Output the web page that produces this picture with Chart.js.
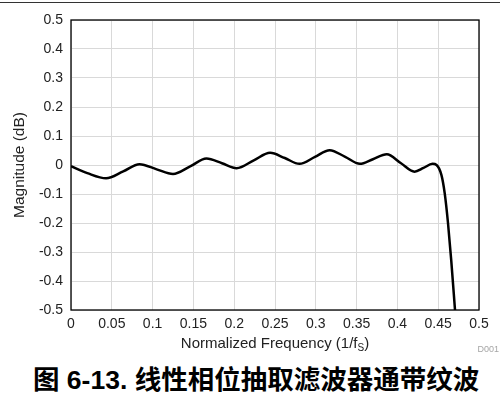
<!DOCTYPE html>
<html>
<head>
<meta charset="utf-8">
<script src="https://cdn.jsdelivr.net/npm/chart.js@4/dist/chart.umd.min.js"></script>
<style>
  html, body { margin: 0; padding: 0; background: #fff; }
  body { width: 500px; height: 406px; position: relative; overflow: hidden; }
  #rule { position: absolute; left: 0; top: 2px; width: 500px; height: 0; border-top: 1.5px solid #333; }
  #wrap { position: absolute; left: 0; top: 0; width: 500px; height: 360px; }
  #caption {
    position: absolute; left: 33px; top: 363px; white-space: nowrap;
    font-family: "Liberation Sans", Arial, "Noto Sans CJK SC", sans-serif;
    font-weight: bold; font-size: 26.5px; line-height: 34px; color: #000;
  }
</style>
</head>
<body>
<div id="rule"></div>
<div id="wrap"><canvas id="rippleChart" width="500" height="360"></canvas></div>
<div id="caption">图 6-13. 线性相位抽取滤波器通带纹波</div>
<script>
// passband ripple: normalized freq (1/fS) vs magnitude (dB)
const freq = [0, 0.02, 0.043, 0.064, 0.084, 0.105, 0.125, 0.146, 0.166, 0.185,
  0.203, 0.224, 0.244, 0.262, 0.280, 0.299, 0.317, 0.336, 0.354, 0.370,
  0.387, 0.404, 0.421, 0.432, 0.443, 0.448, 0.454, 0.458, 0.462, 0.466, 0.4706];
const magnitude = [-0.004, -0.028, -0.046, -0.022, 0.003, -0.015, -0.031, -0.005, 0.022, 0.006,
  -0.011, 0.016, 0.042, 0.024, 0.004, 0.028, 0.051, 0.028, 0.004, 0.020,
  0.037, 0.007, -0.023, -0.010, 0.004, 0.000, -0.035, -0.098, -0.2, -0.33, -0.5];

const xTicks = [0, 0.05, 0.1, 0.15, 0.2, 0.25, 0.3, 0.35, 0.4, 0.45, 0.5];
const xTickLabels = ['0', '0.05', '0.1', '0.15', '0.2', '0.25', '0.3', '0.35', '0.4', '0.45', '0.5'];
const yTicks = [-0.5, -0.4, -0.3, -0.2, -0.1, 0, 0.1, 0.2, 0.3, 0.4, 0.5];
const yTickLabels = ['-0.5', '-0.4', '-0.3', '-0.2', '-0.1', '0', '0.1', '0.2', '0.3', '0.4', '0.5'];

const FONT = '"Liberation Sans", Arial, sans-serif';
const gridColor = '#d9d9d9';

// frame round the plot, x title with subscript S, and the D001 tag
const extras = {
  id: 'extras',
  afterDraw(chart) {
    const ctx = chart.ctx;
    const a = chart.chartArea;
    ctx.save();
    ctx.strokeStyle = '#000';
    ctx.lineWidth = 1.3;
    ctx.strokeRect(a.left, a.top, a.right - a.left, a.bottom - a.top);

    const main = 'Normalized Frequency (1/f';
    const sub = 'S';
    const tail = ')';
    ctx.fillStyle = '#222';
    ctx.textBaseline = 'alphabetic';
    ctx.font = '15px ' + FONT;
    const w1 = ctx.measureText(main).width;
    const w3 = ctx.measureText(tail).width;
    ctx.font = '10px ' + FONT;
    const w2 = ctx.measureText(sub).width;
    let x = (a.left + a.right) / 2 - (w1 + w2 + w3) / 2;
    const y = 348;
    ctx.textAlign = 'left';
    ctx.font = '15px ' + FONT;
    ctx.fillText(main, x, y);
    x += w1;
    ctx.font = '10px ' + FONT;
    ctx.fillText(sub, x, y + 3);
    x += w2;
    ctx.font = '15px ' + FONT;
    ctx.fillText(tail, x, y);

    ctx.fillStyle = '#a6a6a6';
    ctx.font = '9px ' + FONT;
    ctx.textAlign = 'right';
    ctx.fillText('D001', 499, 352);
    ctx.restore();
  }
};

const ctx = document.getElementById('rippleChart').getContext('2d');
const rippleChart = new Chart(ctx, {
  type: 'line',
  data: {
    datasets: [{
      label: 'Magnitude',
      data: freq.map((f, i) => ({ x: f, y: magnitude[i] })),
      borderColor: '#000',
      borderWidth: 2.5,
      pointRadius: 0,
      fill: false,
      cubicInterpolationMode: 'monotone'
    }]
  },
  options: {
    responsive: false,
    animation: false,
    layout: { padding: { left: 0, right: 21, top: 20, bottom: 0 } },
    plugins: { legend: { display: false }, tooltip: { enabled: false } },
    scales: {
      x: {
        type: 'linear', min: 0, max: 0.5,
        afterBuildTicks: s => { s.ticks = xTicks.map(v => ({ value: v })); },
        afterFit: s => { s.height = 50; },
        grid: { color: gridColor, lineWidth: 1, drawTicks: false },
        border: { display: false },
        ticks: {
          color: '#222', font: { family: FONT, size: 14 }, padding: 6, maxRotation: 0,
          callback: (v, i) => xTickLabels[i]
        }
      },
      y: {
        type: 'linear', min: -0.5, max: 0.5,
        afterBuildTicks: s => { s.ticks = yTicks.map(v => ({ value: v })); },
        afterFit: s => { s.width = 71; },
        grid: { color: gridColor, lineWidth: 1, drawTicks: false },
        border: { display: false },
        ticks: {
          color: '#222', font: { family: FONT, size: 14 }, padding: 8,
          callback: (v, i) => yTickLabels[i]
        },
        title: {
          display: true, text: 'Magnitude (dB)', color: '#222',
          font: { family: FONT, size: 15.5 }, padding: { top: 10, bottom: 0 }
        }
      }
    }
  },
  plugins: [extras]
});
</script>
</body>
</html>
